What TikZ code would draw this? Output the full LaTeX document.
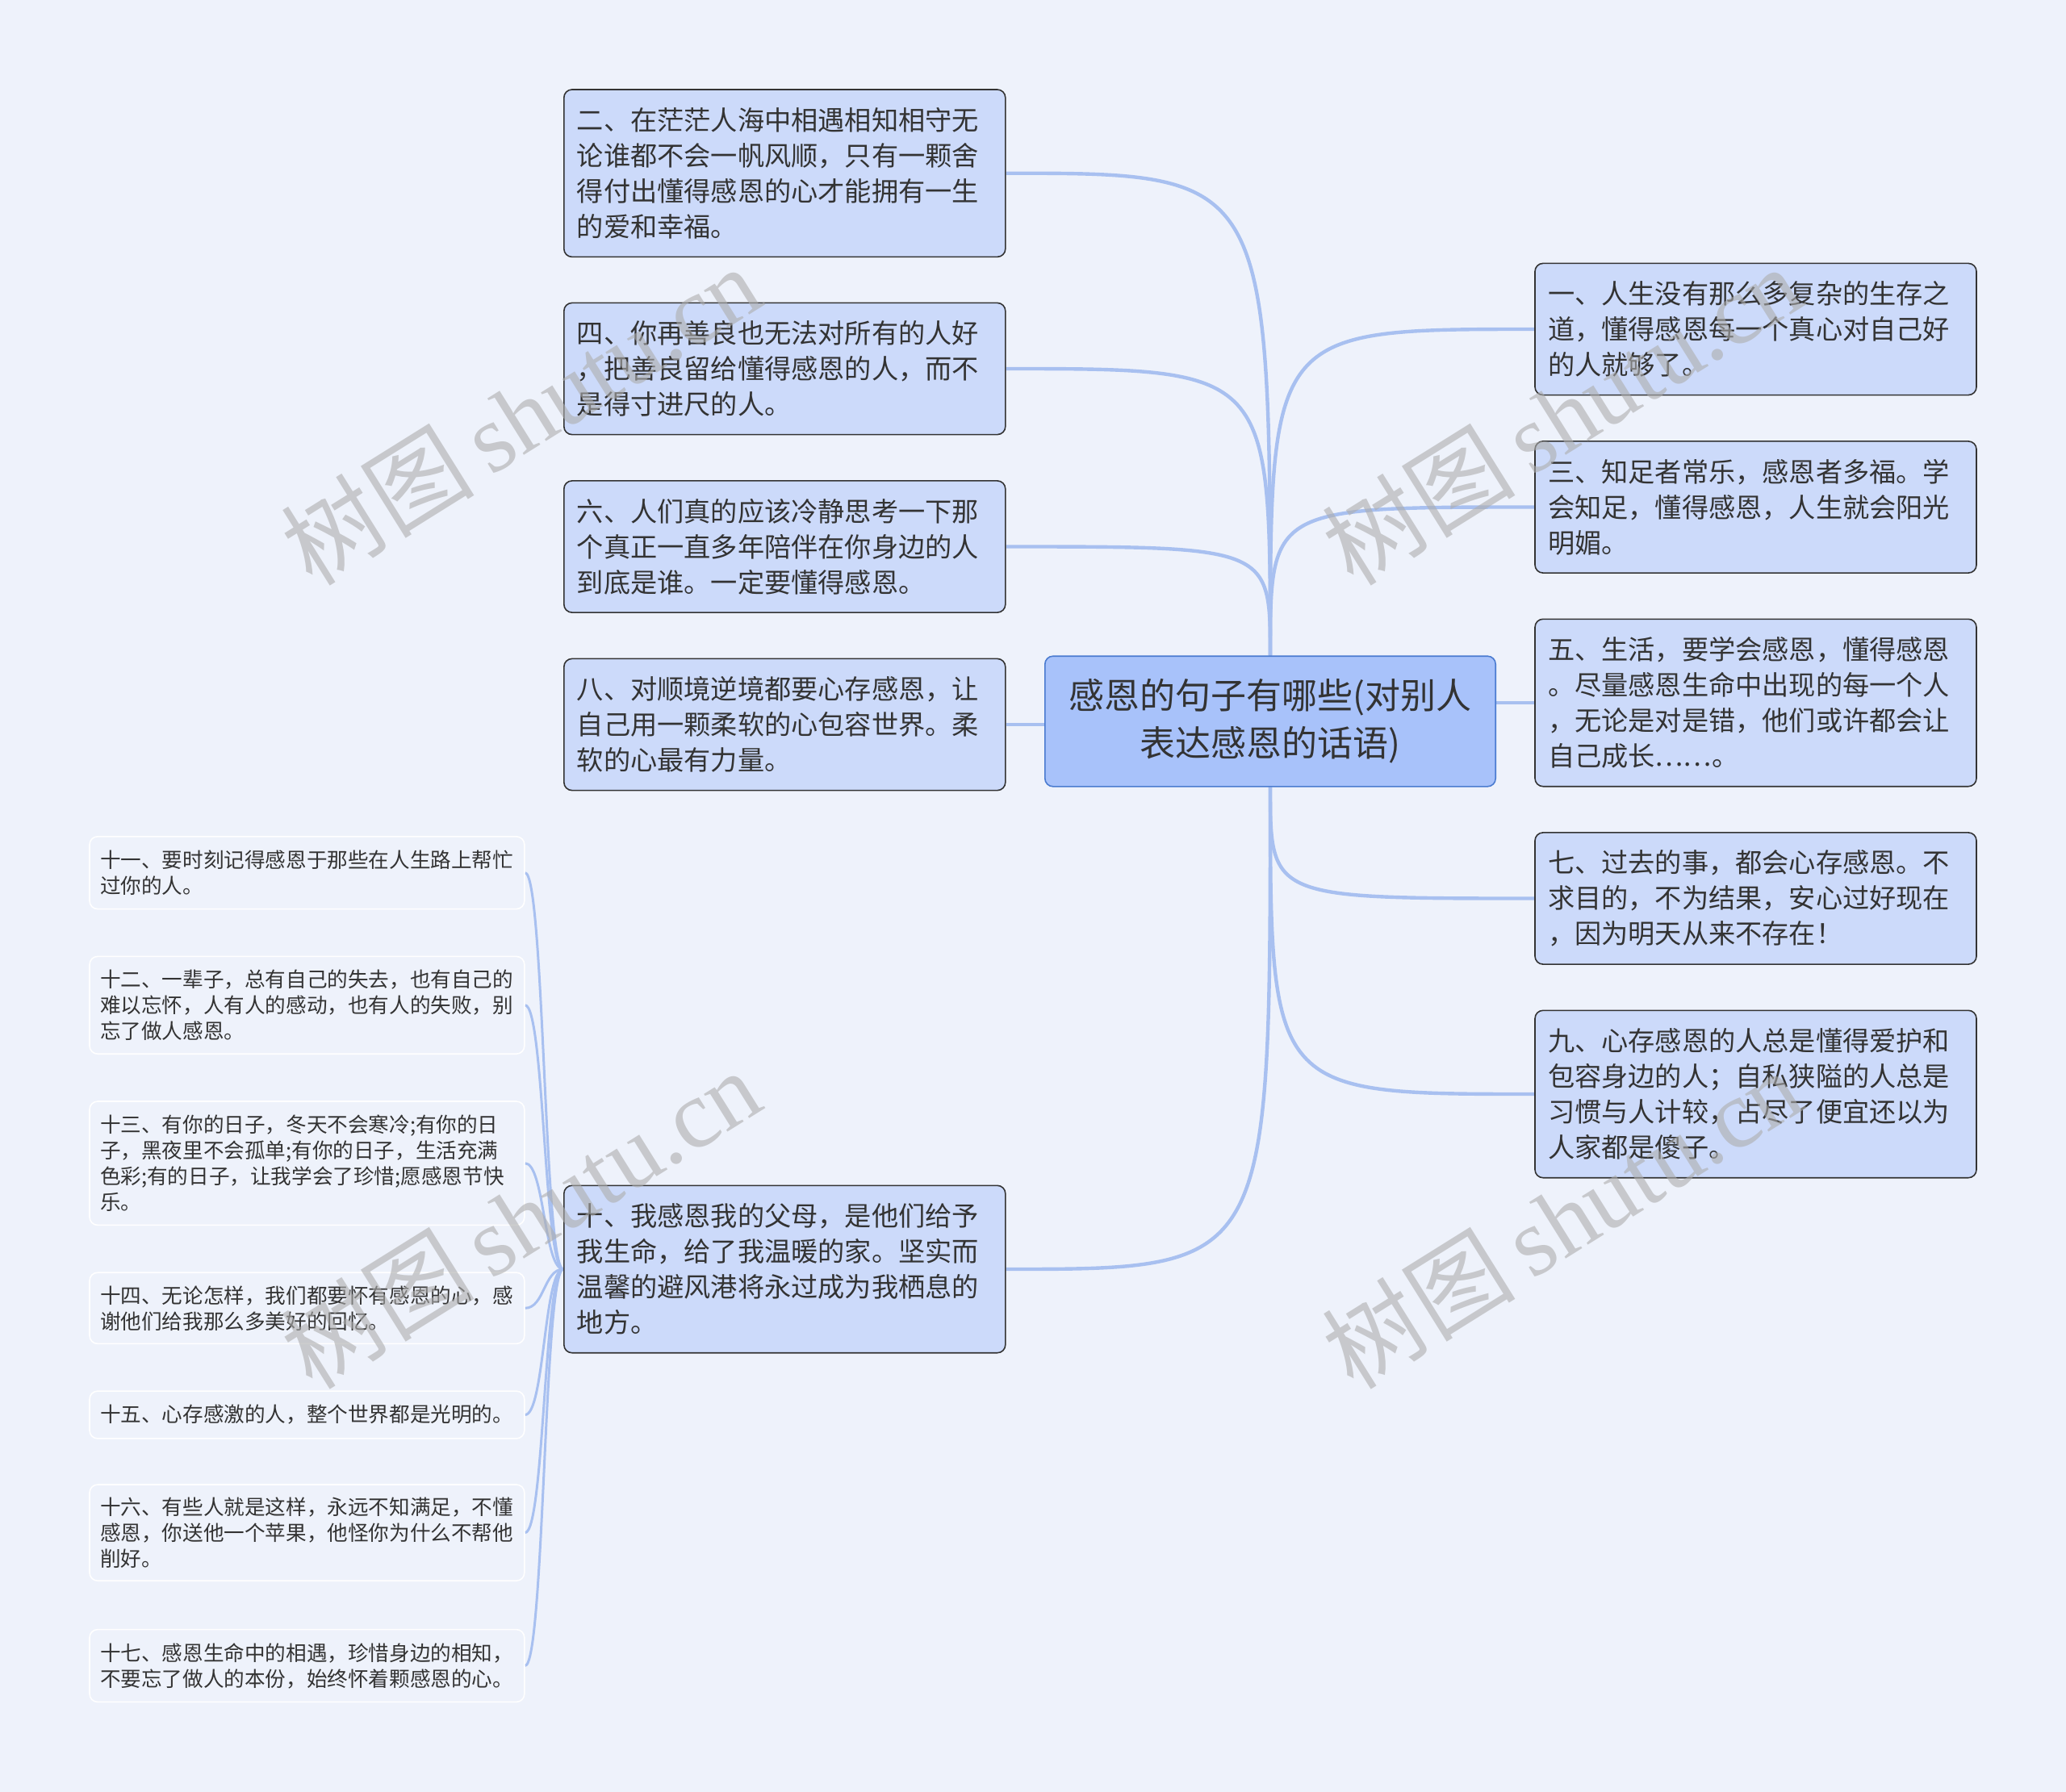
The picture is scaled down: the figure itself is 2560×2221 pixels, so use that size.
\documentclass[tikz,border=0pt]{standalone}
\usepackage{fontspec}
\setmainfont{Noto Sans CJK SC}
\newfontfamily\wmserif{Liberation Serif}
\newfontfamily\wmcjk{Noto Sans CJK SC}
\usetikzlibrary{backgrounds}
\definecolor{bgc}{HTML}{EEF2FB}
\definecolor{boxc}{HTML}{CCDAFA}
\definecolor{centerc}{HTML}{A8C2FA}
\definecolor{centerb}{HTML}{4A7BD0}
\definecolor{linec}{HTML}{A8C0F0}
\definecolor{txtc}{HTML}{333333}
\tikzset{
  mainbox/.style={draw=txtc, fill=boxc, rounded corners=5pt, line width=0.8pt,
    text width=257.5pt, inner xsep=8pt, inner ysep=0pt, minimum width=273.5pt,
    align=left, text=txtc, font=\fontsize{16.6pt}{22pt}\selectfont},
  leafbox/.style={draw=white, fill=bgc, rounded corners=5pt, line width=0.8pt,
    text width=256.4pt, inner xsep=6.5pt, inner ysep=0pt, minimum width=269.4pt,
    align=left, text=txtc, font=\fontsize{12.8pt}{16pt}\selectfont},
  centerbox/.style={draw=centerb, fill=centerc, rounded corners=5pt, line width=0.8pt,
    text width=262pt, inner xsep=8pt, inner ysep=0pt, minimum width=279.2pt,
    minimum height=80.8pt, align=center, text=txtc, font=\fontsize{22pt}{29.5pt}\selectfont},
  conn/.style={draw=linec, line width=2.2pt},
  leafconn/.style={draw=linec, line width=1.5pt},
  wmark/.style={rotate=32, text=black!32, text opacity=0.6, inner sep=0pt}
}
\begin{document}
\begin{tikzpicture}[x=0.5pt,y=-0.5pt]
\begin{scope}[on background layer]
\fill[bgc] (0,0) rectangle (2560,2221);
\end{scope}
\useasboundingbox (0,0) rectangle (2560,2221);

% center
\node[centerbox] (c) at (1574,894) {感恩的句子有哪些(对别人\\表达感恩的话语)};

% left main
\node[mainbox, minimum height=103.7pt] (n2) at (972.3,214.7) {二、在茫茫人海中相遇相知相守无\\论谁都不会一帆风顺，只有一颗舍\\得付出懂得感恩的心才能拥有一生\\的爱和幸福。};
\node[mainbox, minimum height=81.6pt] (n4) at (972.3,457) {四、你再善良也无法对所有的人好\\，把善良留给懂得感恩的人，而不\\是得寸进尺的人。};
\node[mainbox, minimum height=81.6pt] (n6) at (972.3,677.5) {六、人们真的应该冷静思考一下那\\个真正一直多年陪伴在你身边的人\\到底是谁。一定要懂得感恩。};
\node[mainbox, minimum height=81.6pt] (n8) at (972.3,898) {八、对顺境逆境都要心存感恩，让\\自己用一颗柔软的心包容世界。柔\\软的心最有力量。};
\node[mainbox, minimum height=103.7pt] (n10) at (972.3,1573) {十、我感恩我的父母，是他们给予\\我生命，给了我温暖的家。坚实而\\温馨的避风港将永过成为我栖息的\\地方。};

% right main
\node[mainbox, minimum height=81.6pt] (n1) at (2175.5,408) {一、人生没有那么多复杂的生存之\\道，懂得感恩每一个真心对自己好\\的人就够了。};
\node[mainbox, minimum height=81.6pt] (n3) at (2175.5,628.5) {三、知足者常乐，感恩者多福。学\\会知足，懂得感恩，人生就会阳光\\明媚。};
\node[mainbox, minimum height=103.7pt] (n5) at (2175.5,871) {五、生活，要学会感恩，懂得感恩\\。尽量感恩生命中出现的每一个人\\，无论是对是错，他们或许都会让\\自己成长……。};
\node[mainbox, minimum height=81.6pt] (n7) at (2175.5,1113.5) {七、过去的事，都会心存感恩。不\\求目的，不为结果，安心过好现在\\，因为明天从来不存在！};
\node[mainbox, minimum height=103.7pt] (n9) at (2175.5,1356) {九、心存感恩的人总是懂得爱护和\\包容身边的人；自私狭隘的人总是\\习惯与人计较，占尽了便宜还以为\\人家都是傻子。};

% leaves
\node[leafbox, minimum height=44.9pt] (n11) at (380.4,1081.7) {十一、要时刻记得感恩于那些在人生路上帮忙\\过你的人。};
\node[leafbox, minimum height=60.4pt] (n12) at (380.4,1245.8) {十二、一辈子，总有自己的失去，也有自己的\\难以忘怀，人有人的感动，也有人的失败，别\\忘了做人感恩。};
\node[leafbox, minimum height=76.7pt] (n13) at (380.4,1441.7) {十三、有你的日子，冬天不会寒冷;有你的日\\子，黑夜里不会孤单;有你的日子，生活充满\\色彩;有的日子，让我学会了珍惜;愿感恩节快\\乐。};
\node[leafbox, minimum height=44.1pt] (n14) at (380.4,1621.3) {十四、无论怎样，我们都要怀有感恩的心，感\\谢他们给我那么多美好的回忆。};
\node[leafbox, minimum height=29.4pt] (n15) at (380.4,1753.5) {十五、心存感激的人，整个世界都是光明的。};
\node[leafbox, minimum height=59.6pt] (n16) at (380.4,1899.6) {十六、有些人就是这样，永远不知满足，不懂\\感恩，你送他一个苹果，他怪你为什么不帮他\\削好。};
\node[leafbox, minimum height=44.9pt] (n17) at (380.4,2064.5) {十七、感恩生命中的相遇，珍惜身边的相知，\\不要忘了做人的本份，始终怀着颗感恩的心。};

% connectors
\begin{scope}[on background layer]
\draw[conn] (c.north) .. controls (c.north |- n2.east) .. (n2.east);
\draw[conn] (c.north) .. controls (c.north |- n4.east) .. (n4.east);
\draw[conn] (c.north) .. controls (c.north |- n6.east) .. (n6.east);
\draw[conn] (n8.east) -- (n8.east -| c.west);
\draw[conn] (c.south) .. controls (c.south |- n10.east) .. (n10.east);
\draw[conn] (c.north) .. controls (c.north |- n1.west) .. (n1.west);
\draw[conn] (c.north) .. controls (c.north |- n3.west) .. (n3.west);
\draw[conn] (n5.west -| c.east) -- (n5.west);
\draw[conn] (c.south) .. controls (c.south |- n7.west) .. (n7.west);
\draw[conn] (c.south) .. controls (c.south |- n9.west) .. (n9.west);
\foreach \l in {n11,n12,n13,n14,n15,n16,n17}{
  \draw[leafconn] (n10.west) .. controls ([xshift=-12pt]n10.west) and ([xshift=12pt]\l.east) .. (\l.east);
}
\end{scope}

% watermarks
\foreach \p in {(645,514),(1935,514),(645,1510),(1935,1510)}{
  \node[wmark] at \p {\fontsize{60pt}{60pt}\selectfont\wmcjk 树图\,\wmserif shutu.cn};
}
\end{tikzpicture}
\end{document}
